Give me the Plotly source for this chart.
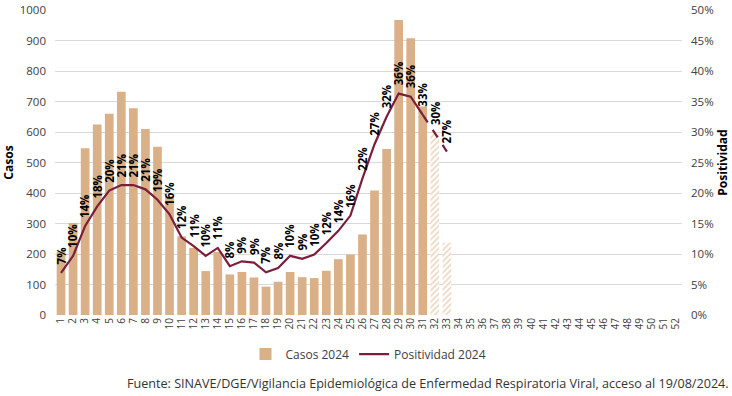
import plotly.graph_objects as go

weeks = list(range(1, 53))
casos_weeks = list(range(1, 32))
casos = [207, 302, 547, 625, 660, 732, 678, 610, 552, 389,
         258, 220, 144, 207, 133, 141, 123, 93, 109, 141,
         124, 121, 145, 183, 198, 264, 408, 544, 967, 907, 684]
prelim_weeks = [32, 33]
prelim_casos = [597, 237]

pos_weeks = list(range(1, 32))
positividad = [0.069, 0.097, 0.146, 0.178, 0.204, 0.213, 0.213, 0.206, 0.189, 0.165,
               0.127, 0.113, 0.097, 0.110, 0.080, 0.088, 0.086, 0.070, 0.077, 0.097,
               0.092, 0.099, 0.118, 0.138, 0.163, 0.224, 0.280, 0.325, 0.363, 0.358, 0.328]
dash_weeks = [31, 32, 33]
dash_pos = [0.328, 0.298, 0.268]

label_weeks = list(range(1, 34))
label_vals = positividad + dash_pos[1:]
label_text = ["7%", "10%", "14%", "18%", "20%", "21%", "21%", "21%", "19%", "16%",
              "12%", "11%", "10%", "11%", "8%", "9%", "9%", "7%", "8%", "10%",
              "9%", "10%", "12%", "14%", "16%", "22%", "27%", "32%", "36%", "36%",
              "33%", "30%", "27%"]

BAR = "#D9B087"
LINE = "#7B1E3A"
FONT = "Open Sans"

fig = go.Figure()
fig.add_trace(go.Bar(x=casos_weeks, y=casos, name="Casos 2024",
                     marker=dict(color=BAR, line=dict(width=0))))
fig.add_trace(go.Bar(x=prelim_weeks, y=prelim_casos, name="Casos 2024 (preliminar)",
                     showlegend=False,
                     marker=dict(color=BAR, line=dict(width=0),
                                 pattern=dict(shape="/", size=4, solidity=0.45,
                                              fgcolor=BAR, bgcolor="white"))))
fig.add_trace(go.Scatter(x=pos_weeks, y=positividad, name="Positividad 2024",
                         yaxis="y2", mode="lines",
                         line=dict(color=LINE, width=2.2)))
fig.add_trace(go.Scatter(x=dash_weeks, y=dash_pos, showlegend=False,
                         yaxis="y2", mode="lines",
                         line=dict(color=LINE, width=2.2, dash="dash")))

for w, v, t in zip(label_weeks, label_vals, label_text):
    fig.add_annotation(x=w, y=v, xref="x", yref="y2", text="<b>" + t + "</b>",
                       textangle=-90, showarrow=False, xanchor="center",
                       yanchor="bottom", yshift=6,
                       font=dict(family=FONT, size=11.5, color="black"))

fig.add_annotation(x=1.0, xref="paper", xanchor="right", xshift=49,
                   y=-0.223, yref="paper", yanchor="middle",
                   text="Fuente: SINAVE/DGE/Vigilancia Epidemiológica de Enfermedad Respiratoria Viral, acceso al 19/08/2024.",
                   showarrow=False, font=dict(family=FONT, size=12.6, color="#333333"))

fig.update_layout(
    width=732, height=396,
    margin=dict(l=55, r=50, t=10, b=81),
    paper_bgcolor="white", plot_bgcolor="white",
    barmode="overlay", bargap=0.28,
    font=dict(family=FONT, size=11, color="#404040"),
    showlegend=True,
    legend=dict(orientation="h", x=0.5, xanchor="center", y=-0.128, yanchor="middle",
                font=dict(family=FONT, size=12, color="#404040"),
                itemwidth=30, traceorder="normal"),
    xaxis=dict(range=[0.5, 52.5], tickmode="array", tickvals=weeks,
               ticktext=[str(w) for w in weeks], tickangle=-90, automargin=False,
               tickfont=dict(family=FONT, size=10, color="#404040"),
               showgrid=False, zeroline=False, showline=False, ticks=""),
    yaxis=dict(range=[0, 1000], dtick=100, showgrid=True, gridcolor="#D9D9D9",
               gridwidth=1, zeroline=False, showline=False, ticks="",
               ticklabelstandoff=8, automargin=False,
               tickfont=dict(family=FONT, size=11.5, color="#404040"),
               title=dict(text="<b>Casos</b>", standoff=6,
                          font=dict(family=FONT, size=12, color="black"))),
    yaxis2=dict(range=[0, 0.5], dtick=0.05, tickformat=".0%", overlaying="y",
                side="right", showgrid=False, zeroline=False, showline=False,
                ticks="", ticklabelstandoff=8, automargin=False,
                tickfont=dict(family=FONT, size=11.5, color="#404040"),
                title=dict(text="<b>Positividad</b>", standoff=2,
                           font=dict(family=FONT, size=12, color="black"))),
)

fig.write_html("out.html")
